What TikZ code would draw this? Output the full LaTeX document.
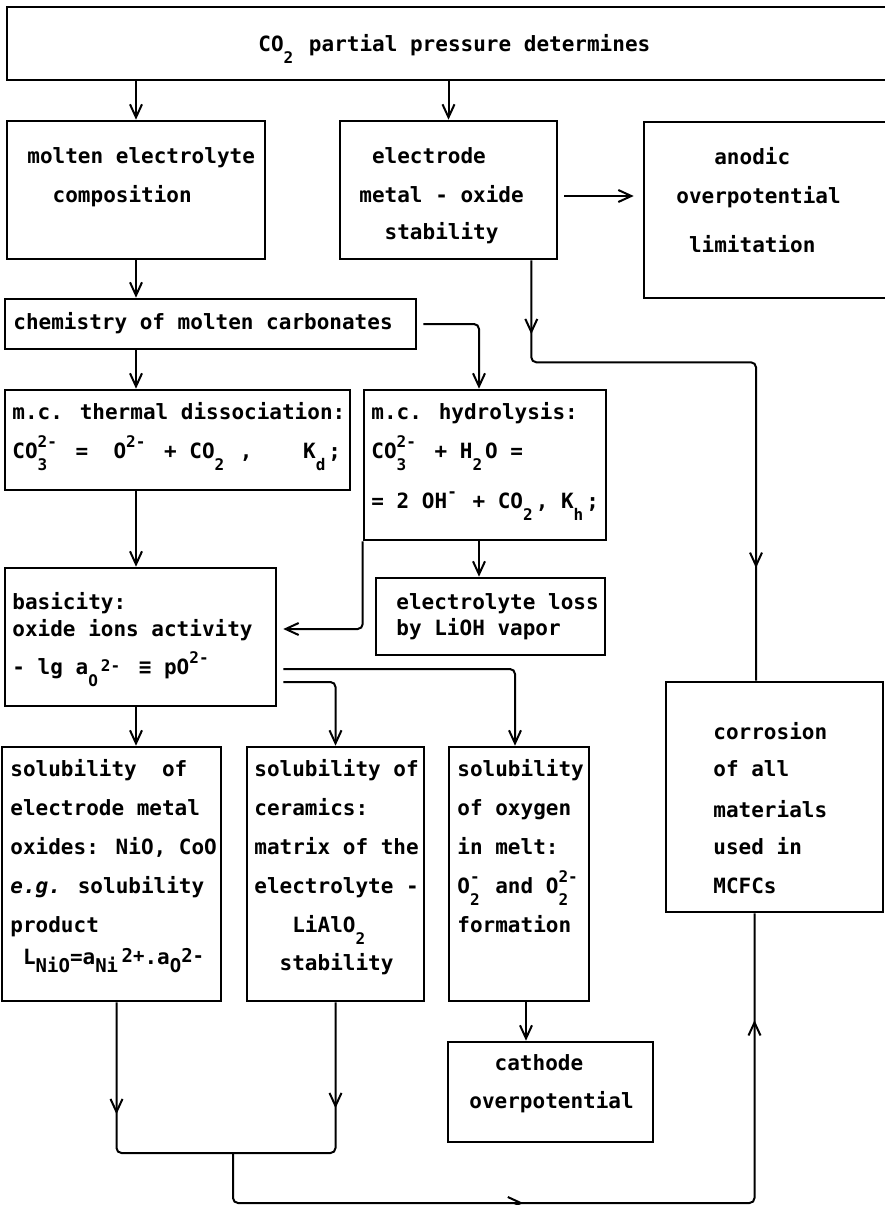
\documentclass[tikz,border=0pt]{standalone}
\usepackage{fontspec}
\setmainfont{DejaVu Sans Mono}[BoldFont={* Bold}, ItalicFont={* Oblique}, BoldItalicFont={* Bold Oblique}]
\usepackage{tikz}
\usetikzlibrary{arrows.meta, positioning, fit, calc, decorations.markings}

\newlength{\cellw}\setlength{\cellw}{6.32pt}
\newcommand{\supx}[2][5.5pt]{\raisebox{#1}{\fontsize{8}{8}\selectfont #2}}
\newcommand{\subx}[2][-6pt]{\raisebox{#1}{\fontsize{8}{8}\selectfont #2}}
\newcommand{\lowx}[2][-4pt]{\raisebox{#1}{\fontsize{9.5}{9.5}\selectfont #2}}
\newcommand{\cells}[2]{\makebox[#1\cellw][l]{#2}}
\newcommand{\hilo}[3]{\makebox[#1\cellw][l]{\rlap{\supx{#2}}\subx{#3}}}
\newcommand{\tstrut}{\rule{0pt}{8pt}}
\newcommand{\vtip}{\arrow{Straight Barb[length=6.5pt,width=6pt]}}
\newcommand{\vtipr}{\arrowreversed{Straight Barb[length=6.5pt,width=6pt]}}

\begin{document}
\begin{tikzpicture}[x=0.5pt, y=-0.5pt,
  box/.style={draw, line width=1.3pt, inner sep=0pt},
  txt/.style={anchor=north west, inner sep=0pt, align=left,
              font=\fontsize{10.5}{19.5}\selectfont\bfseries},
  line/.style={line width=1pt, rounded corners=2.5pt},
  arr/.style={line, -{Straight Barb[length=6.5pt,width=6pt]}},
  tips/.style={postaction={decorate}, decoration={markings, #1}}
]
  \fill[white] (0,0) rectangle (884,1205);
  \useasboundingbox (0,0) rectangle (884,1205);

  \node[box, fit={(7,7) (892,80)}] (top) {};
  \node[txt] (toptxt) at (258,34)
        {\tstrut CO\cells{1}{\subx{2}}~partial pressure determines};

  \node[box, fit={(7,121) (265,259)}] (molten) {};
  \node[txt] (moltentxt) at (27,147)
        {\tstrut molten electrolyte\\~~composition};
  \node[box, fit={(340,121) (557,259)}] (elec) {};
  \node[txt] (electxt) at (359,147)
        {\tstrut ~electrode\\metal - oxide\\[-1pt]~~stability};
  \node[box, fit={(644,122) (892,298)}] (anodic) {};
  \node[txt] (anodictxt) at (676,147)
        {\tstrut ~~~anodic\\overpotential\\[5pt]~limitation};

  \node[box, fit={(5,299) (416,349)}] (chem) {};
  \node[txt] (chemtxt) at (13,312) {\tstrut chemistry of molten carbonates};

  \node[box, fit={(5,390) (350,490)}] (thermal) {};
  \node[txt] (thermaltxt) at (12,402)
        {\tstrut m.c. thermal dissociation:\\
         CO\hilo{2}{2-}{3}~=~~O\cells{2}{\supx{2-}}~+~CO\cells{1}{\subx{2}}~,~~~~K\cells{1}{\subx{d}};};
  \node[box, fit={(364,390) (606,540)}] (hydro) {};
  \node[txt] (hydrotxt) at (371,402)
        {\tstrut m.c. hydrolysis:\\
         CO\hilo{2}{2-}{3}~+~H\cells{1}{\subx{2}}O~=\\[5.5pt]
         =~2~OH\cells{1}{\supx{-}}~+~CO\cells{1}{\subx{2}},~K\cells{1}{\subx{h}};};

  \node[box, fit={(5,568) (276,706)}] (basic) {};
  \node[txt] (basictxt) at (12,592)
        {\tstrut basicity:\\[-6pt]oxide ions activity\\[-0.5pt]
         -~lg~a\cells{1}{\subx{O}}\cells{2}{\supx[1.5pt]{2-}}~\symbol{"2261}~pO\cells{2}{\supx{2-}}};
  \node[box, fit={(376,578) (605,655)}] (loss) {};
  \node[txt] (losstxt) at (396,593)
        {\tstrut electrolyte loss\\[-6.5pt]by LiOH vapor};

  \node[box, fit={(2,747) (221,1001)}] (sol1) {};
  \node[txt] (sol1txt) at (10,759)
        {\tstrut solubility~~of\\electrode metal\\oxides: NiO, CoO\\
         \textit{e.g.} solubility\\product\\[-3.5pt]
         ~L\lowx{NiO}=a\lowx{Ni}\,\supx[1pt]{\fontsize{9.5}{9.5}\selectfont 2+}.a\lowx{O}\supx[1pt]{\fontsize{9.5}{9.5}\selectfont 2-}};
  \node[box, fit={(247,747) (424,1001)}] (sol2) {};
  \node[txt] (sol2txt) at (254,759)
        {\tstrut solubility of\\ceramics:\\matrix of the\\electrolyte -\\
         ~~~LiAlO\cells{1}{\subx{2}}\\[-0.5pt]~~stability};
  \node[box, fit={(449,747) (589,1001)}] (sol3) {};
  \node[txt] (sol3txt) at (457,759)
        {\tstrut solubility\\of oxygen\\in melt:\\
         O\hilo{1}{-}{2}~and~O\hilo{2}{2-}{2}\\formation};

  \node[box, fit={(448,1042) (653,1142)}] (cathode) {};
  \node[txt] (cathodetxt) at (469,1054)
        {\tstrut ~~cathode\\[-0.5pt]overpotential};
  \node[box, fit={(666,682) (883,912)}] (corr) {};
  \node[txt] (corrtxt) at (713,722)
        {\tstrut corrosion\\[-1pt]of all\\[1pt]materials\\[-1pt]used in\\MCFCs};

  \coordinate (hx) at ($(hydro.north)+(-6,0)$);
  \coordinate (cx) at ($(sol3.south)+(7,0)$);
  \coordinate (ex) at ($(elec.south east)+(-27,0)$);
  \coordinate (join) at (233,1153);
  \coordinate (low) at (233,1203);

  \draw[arr] (molten.north |- top.south) -- (molten.north);
  \draw[arr] (elec.north |- top.south) -- (elec.north);
  \draw[arr] ($(elec.east)+(6,6)$) -- ($(elec.east -| anodic.west)+(-9,6)$);
  \draw[arr] (molten.south) -- (molten.south |- chem.north);
  \draw[arr] ($(chem.east)+(6,0)$) -| (hx);
  \draw[arr] (chem.south -| molten.south) -- (thermal.north -| molten.south);
  \draw[arr] (thermal.south -| molten.south) -- (basic.north -| molten.south);
  \draw[arr] (hx |- hydro.south) -- (hx |- loss.north);
  \draw[arr] (hydro.south west) |- ($(basic.east)+(6,-8)$);
  \draw[arr] (basic.south -| molten.south) -- (sol1.north -| molten.south);
  \draw[arr] ($(basic.east)+(6,32)$) -| ($(sol3.north)+(-4,0)$);
  \draw[arr] ($(basic.east)+(6,45)$) -| (sol2.north);
  \draw[arr] (cx) -- (cx |- cathode.north);
  \draw[line, tips={mark=at position 37pt with {\vtip},
                    mark=at position 264pt with {\vtip}}]
        (ex) -- ++(0,102) -| ($(corr.north)+(-18.5,0)$);
  \draw[line, tips={mark=at position 56pt with {\vtip},
                    mark=at position 205pt with {\vtipr}}]
        ($(sol1.south)+(5,0)$) |- (join) -| (sol2.south);
  \draw[line, tips={mark=at position 169pt with {\vtip},
                    mark=at position 375pt with {\vtip}}]
        (join) -- (low) -| ($(corr.south)+(-20,0)$);
\end{tikzpicture}
\end{document}
